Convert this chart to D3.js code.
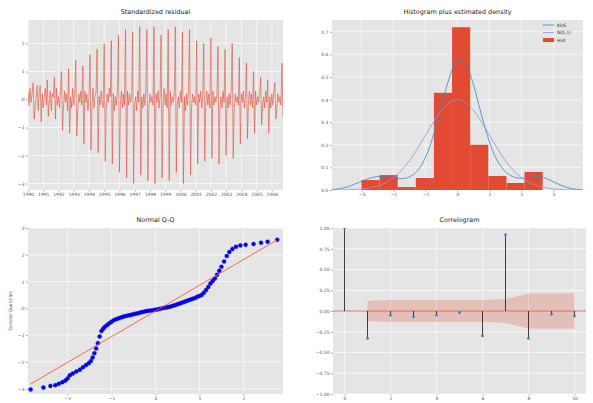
<!DOCTYPE html>
<html><head><meta charset="utf-8">
<script src="https://cdn.jsdelivr.net/npm/d3@7"></script>
<style>body{margin:0;background:#fff}svg{display:block;font-family:"DejaVu Sans",sans-serif}</style>
</head><body><svg id="c" width="593" height="403"></svg>
<script>
// ---------- DATA ----------
const resid = [
0.3,-0.2,0.4,-0.1,0.2,0.6,-0.7,
-0.3,0.1,0.5,-0.4,0.2,0.5,-0.8,
0.2,-0.3,0.1,0.4,-0.2,0.7,-0.6,
-0.1,0.3,-0.4,0.2,0.1,0.8,-0.7,
0.4,-0.2,0.1,-0.3,0.3,1.0,-1.1,
-0.2,0.3,-0.1,0.2,-0.4,1.1,-1.2,
0.1,-0.3,0.4,-0.2,0.2,1.4,-1.3,
-0.4,0.2,-0.1,0.3,-0.2,1.2,-1.6,
0.3,-0.1,0.2,-0.4,0.1,1.6,-1.8,
-0.2,0.4,-0.3,0.1,0.3,1.8,-1.9,
0.1,-0.2,0.3,-0.1,-0.3,2.0,-2.2,
-0.3,0.2,-0.1,0.4,0.1,2.1,-2.3,
0.2,-0.4,0.1,-0.2,0.3,2.3,-2.6,
-0.1,0.3,-0.3,0.2,-0.2,2.5,-2.8,
0.3,-0.2,0.2,-0.1,0.1,2.4,-3.0,
-0.2,0.1,-0.4,0.3,-0.1,2.6,-2.7,
0.1,-0.3,0.2,-0.2,0.4,2.5,-2.9,
-0.3,0.2,-0.1,0.1,-0.2,2.6,-3.0,
0.2,-0.1,0.3,-0.3,0.1,2.3,-2.8,
-0.1,0.4,-0.2,0.2,-0.3,2.5,-2.9,
0.3,-0.2,0.1,-0.1,0.2,2.6,-2.6,
-0.2,0.1,-0.3,0.3,-0.1,2.4,-3.0,
0.1,-0.4,0.2,-0.2,0.3,2.5,-2.7,
-0.3,0.2,-0.1,0.1,-0.2,2.1,-2.3,
0.2,-0.1,0.3,-0.3,0.1,2.0,-2.2,
-0.1,0.3,-0.2,0.2,-0.3,2.2,-2.1,
0.3,-0.2,0.1,-0.1,0.2,1.9,-2.3,
-0.2,0.1,-0.3,0.3,-0.1,1.8,-2.0,
0.1,-0.3,0.2,-0.2,0.3,2.0,-2.1,
-0.3,0.2,-0.1,0.1,-0.2,1.5,-1.6,
0.2,-0.1,0.3,-0.3,0.1,1.3,-1.4,
-0.1,0.3,-0.2,0.2,-0.3,1.0,-1.2,
0.3,-0.2,0.1,-0.1,0.2,0.8,-0.9,
-0.2,0.1,-0.3,0.3,-0.1,0.7,-1.2,
0.1,-0.3,0.2,-0.2,0.3,0.6,-0.7,
-0.3,0.2,-0.1,0.1,-0.2,1.3,-0.6];
const residTickIdx = [0,15,30,45,60,75,90,105,120,135,150,165,180,195,210,225,240];
const residTickLabels = ["1990","1991","1992","1993","1994","1995","1996","1997","1998","1999","2000","2001","2002","2003","2004","2005","2006"];
const residYTicks = [2,1,0,-1,-2,-3];

const histEdges = [-3.0,-2.434,-1.868,-1.302,-0.736,-0.17,0.396,0.962,1.528,2.094,2.66];
const histDensity = [0.044,0.066,0.013,0.053,0.43,0.72,0.20,0.062,0.031,0.08];
const densX = [-3.92,-3.675,-3.43,-3.185,-2.94,-2.695,-2.45,-2.205,-1.96,-1.715,-1.47,-1.225,-0.98,-0.735,-0.49,-0.245,0,
  0.245,0.49,0.735,0.98,1.225,1.47,1.715,1.96,2.205,2.45,2.695,2.94,3.185,3.43,3.675,3.92];
const kdeY = [0.002,0.006,0.014,0.027,0.042,0.054,0.060,0.058,0.052,0.050,0.060,0.090,0.150,0.250,0.380,0.500,0.575,
  0.560,0.470,0.340,0.220,0.135,0.085,0.060,0.052,0.055,0.060,0.055,0.040,0.024,0.011,0.004,0.001];
const normY = [0.00018,0.00047,0.00111,0.0025,0.0053,0.0106,0.0198,0.0351,0.0584,0.0917,0.1354,0.1884,0.2468,0.3045,0.3538,0.3871,0.3989,
  0.3871,0.3538,0.3045,0.2468,0.1884,0.1354,0.0917,0.0584,0.0351,0.0198,0.0106,0.0053,0.0025,0.00111,0.00047,0.00018];
const histXTicks = [-3,-2,-1,0,1,2,3];
const histYTicks = [0,0.1,0.2,0.3,0.4,0.5,0.6,0.7];
const histYLabels = ["0.0","0.1","0.2","0.3","0.4","0.5","0.6","0.7"];
const legendLabels = ["KDE","N(0,1)","Hist"];

const qqTheo = [-2.84,-2.55,-2.39,-2.28,-2.2,-2.12,-2.05,-2.0,-1.95,-1.88,-1.80,-1.72,-1.65,-1.58,-1.52,-1.47,-1.43,-1.39,-1.35,-1.31,-1.27,-1.23,-1.19,-1.15,-1.10,-1.05,
 -1.0,-0.95,-0.9,-0.85,-0.8,-0.75,-0.7,-0.65,-0.6,-0.55,-0.5,-0.45,-0.4,-0.35,-0.3,-0.25,-0.2,-0.15,-0.1,-0.05,0,
 0.05,0.1,0.15,0.2,0.25,0.3,0.35,0.4,0.45,0.5,0.55,0.6,0.65,0.7,0.75,0.8,0.85,0.9,0.95,1.0,
 1.05,1.1,1.15,1.2,1.25,1.3,1.35,1.4,1.45,1.5,1.56,1.62,1.68,1.75,1.83,1.93,2.05,2.23,2.40,2.55,2.77];
const qqSample = [-3.03,-2.96,-2.90,-2.87,-2.82,-2.76,-2.70,-2.62,-2.50,-2.43,-2.36,-2.29,-2.20,-2.12,-2.05,-1.97,-1.84,-1.68,-1.50,-1.30,-1.05,-0.85,-0.76,-0.69,-0.62,-0.56,
 -0.50,-0.45,-0.41,-0.38,-0.35,-0.32,-0.30,-0.28,-0.26,-0.24,-0.22,-0.20,-0.18,-0.16,-0.14,-0.12,-0.10,-0.09,-0.08,-0.07,-0.05,
 -0.04,-0.02,0.0,0.02,0.03,0.05,0.07,0.10,0.12,0.15,0.18,0.21,0.24,0.27,0.30,0.33,0.36,0.39,0.43,0.46,
 0.50,0.58,0.68,0.80,0.93,1.02,1.11,1.25,1.40,1.55,1.75,1.95,2.10,2.22,2.30,2.35,2.37,2.40,2.45,2.49,2.56];
const qqLineSlope = 0.96, qqLineIntercept = -0.1;
const qqXTicks = [-2,-1,0,1,2];
const qqYTicks = [3,2,1,0,-1,-2,-3];

const acfLags = [0,1,2,3,4,5,6,7,8,9,10];
const acfVals = [1.0,-0.33,-0.05,-0.07,-0.05,-0.02,-0.30,0.92,-0.33,-0.04,-0.06];
const confLags = [1,2,3,4,5,6,7,8,9,10];
const confHalf = [0.12,0.132,0.132,0.133,0.133,0.133,0.143,0.21,0.212,0.213];
const acfXTicks = [0,2,4,6,8,10];
const acfYTicks = [1,0.75,0.5,0.25,0,-0.25,-0.5,-0.75,-1];

// ---------- DRAW ----------
const svg = d3.select('#c');
const RED = '#E24A33', BLUE = '#348ABD', PURPLE = '#988ED5';
const fmtMinus = s => String(s).replace('-', '\u2212');
let clipId = 0;

function panel(x0, x1, y0, y1, xs, ys, xt, xl, yt, yl, title, titleY) {
  const g = svg.append('g');
  g.append('rect').attr('x', x0).attr('y', y0).attr('width', x1 - x0).attr('height', y1 - y0).attr('fill', '#E5E5E5');
  const grid = g.append('g').attr('stroke', '#fff').attr('stroke-width', 0.6);
  xt.forEach(v => grid.append('line').attr('x1', xs(v)).attr('x2', xs(v)).attr('y1', y0).attr('y2', y1));
  yt.forEach(v => grid.append('line').attr('y1', ys(v)).attr('y2', ys(v)).attr('x1', x0).attr('x2', x1));
  const ax = g.append('g').attr('transform', `translate(0,${y1})`)
    .call(d3.axisBottom(xs).tickValues(xt).tickFormat((d, i) => xl[i]).tickSize(1.5).tickPadding(1));
  const ay = g.append('g').attr('transform', `translate(${x0},0)`)
    .call(d3.axisLeft(ys).tickValues(yt).tickFormat((d, i) => yl[i]).tickSize(2).tickPadding(1.5));
  [ax, ay].forEach(a => {
    a.select('.domain').remove();
    a.selectAll('line').attr('stroke', '#555').attr('stroke-width', 0.5);
    a.selectAll('text').attr('fill', '#555').attr('font-size', 4.5).attr('font-family', '"DejaVu Sans",sans-serif');
  });
  g.append('text').attr('x', (x0 + x1) / 2).attr('y', titleY).attr('text-anchor', 'middle')
    .attr('font-size', 6.4).attr('fill', '#222').text(title);
  const id = 'clip' + (clipId++);
  svg.append('clipPath').attr('id', id).append('rect').attr('x', x0).attr('y', y0).attr('width', x1 - x0).attr('height', y1 - y0);
  return svg.append('g').attr('clip-path', `url(#${id})`);
}

// Panel 1: standardized residual
{
  const x0 = 28, x1 = 283, y0 = 20, y1 = 190;
  const xs = d3.scaleLinear().domain([0, resid.length - 1]).range([x0, x1]);
  const ys = d3.scaleLinear().domain([-3.23, 2.84]).range([y1, y0]);
  const g = panel(x0, x1, y0, y1, xs, ys, residTickIdx, residTickLabels, residYTicks, residYTicks.map(fmtMinus), 'Standardized residual', 14);
  g.append('path').datum(resid).attr('fill', 'none').attr('stroke', RED).attr('stroke-width', 0.65).attr('stroke-opacity', 0.9)
    .attr('d', d3.line().x((d, i) => xs(i)).y(d => ys(d)));
}

// Panel 2: histogram + density
{
  const x0 = 332, x1 = 583, y0 = 20, y1 = 190;
  const xs = d3.scaleLinear().domain([-3.92, 3.92]).range([x0, x1]);
  const ys = d3.scaleLinear().domain([0, 0.752]).range([y1, y0]);
  const g = panel(x0, x1, y0, y1, xs, ys, histXTicks, histXTicks.map(fmtMinus), histYTicks, histYLabels, 'Histogram plus estimated density', 14);
  g.selectAll('rect.bar').data(histDensity).enter().append('rect')
    .attr('x', (d, i) => xs(histEdges[i])).attr('width', (d, i) => xs(histEdges[i + 1]) - xs(histEdges[i]))
    .attr('y', d => ys(d)).attr('height', d => ys(0) - ys(d)).attr('fill', RED);
  const line = d3.line().x((d, i) => xs(densX[i])).y(d => ys(d)).curve(d3.curveMonotoneX);
  g.append('path').datum(kdeY).attr('fill', 'none').attr('stroke', BLUE).attr('stroke-width', 0.8).attr('d', line);
  g.append('path').datum(normY).attr('fill', 'none').attr('stroke', PURPLE).attr('stroke-width', 0.8).attr('d', line);
  const lg = svg.append('g').attr('font-size', 4.5).attr('fill', '#333');
  const cols = [BLUE, PURPLE, RED];
  legendLabels.forEach((t, i) => {
    const yy = 25 + i * 7.5;
    if (i < 2) lg.append('line').attr('x1', 543).attr('x2', 554).attr('y1', yy).attr('y2', yy).attr('stroke', cols[i]).attr('stroke-width', 0.8);
    else lg.append('rect').attr('x', 543).attr('y', yy - 2).attr('width', 11).attr('height', 4).attr('fill', cols[i]);
    lg.append('text').attr('x', 557).attr('y', yy + 1.6).text(t);
  });
}

// Panel 3: Normal Q-Q
{
  const x0 = 28, x1 = 283, y0 = 228, y1 = 394;
  const xs = d3.scaleLinear().domain([-2.9, 2.9]).range([x0, x1]);
  const ys = d3.scaleLinear().domain([-3.2, 3.0]).range([y1, y0]);
  const g = panel(x0, x1, y0, y1, xs, ys, qqXTicks, qqXTicks.map(fmtMinus), qqYTicks, qqYTicks.map(fmtMinus), 'Normal Q-Q', 222);
  g.selectAll('circle').data(qqSample).enter().append('circle')
    .attr('cx', (d, i) => xs(qqTheo[i])).attr('cy', d => ys(d)).attr('r', 2)
    .attr('fill', '#0000ff').attr('stroke', '#0000cc').attr('stroke-width', 0.4);
  const lx = d3.extent(qqTheo);
  g.append('line').attr('x1', xs(lx[0])).attr('x2', xs(lx[1]))
    .attr('y1', ys(qqLineIntercept + qqLineSlope * lx[0])).attr('y2', ys(qqLineIntercept + qqLineSlope * lx[1]))
    .attr('stroke', '#f0603a').attr('stroke-width', 0.9);
  svg.append('text').attr('transform', 'translate(12,311) rotate(-90)').attr('text-anchor', 'middle')
    .attr('font-size', 4.5).attr('fill', '#555').text('Sample Quantiles');
}

// Panel 4: Correlogram
{
  const x0 = 333, x1 = 586, y0 = 228, y1 = 394;
  const xs = d3.scaleLinear().domain([-0.5, 10.5]).range([x0, x1]);
  const ys = d3.scaleLinear().domain([-1, 1]).range([y1, y0]);
  const g = panel(x0, x1, y0, y1, xs, ys, acfXTicks, acfXTicks.map(String), acfYTicks,
    acfYTicks.map(v => fmtMinus(v.toFixed(2))), 'Correlogram', 222);
  g.append('path').datum(confHalf).attr('fill', RED).attr('fill-opacity', 0.25)
    .attr('d', d3.area().x((d, i) => xs(confLags[i])).y0(d => ys(-d)).y1(d => ys(d)));
  g.append('line').attr('x1', x0).attr('x2', x1).attr('y1', ys(0)).attr('y2', ys(0)).attr('stroke', RED).attr('stroke-width', 0.8);
  g.selectAll('line.stem').data(acfVals).enter().append('line')
    .attr('x1', (d, i) => xs(acfLags[i])).attr('x2', (d, i) => xs(acfLags[i]))
    .attr('y1', ys(0)).attr('y2', d => ys(d)).attr('stroke', '#111').attr('stroke-width', 0.8);
  g.selectAll('circle').data(acfVals).enter().append('circle')
    .attr('cx', (d, i) => xs(acfLags[i])).attr('cy', d => ys(d)).attr('r', 1.4).attr('fill', BLUE);
}
</script></body></html>
